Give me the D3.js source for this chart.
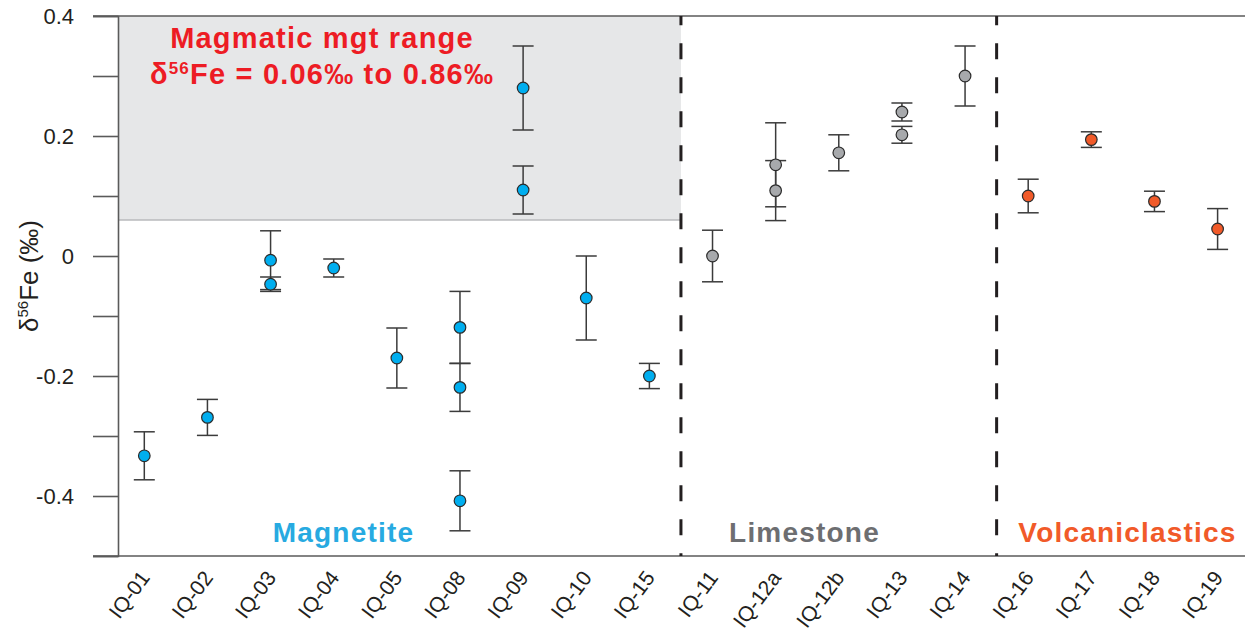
<!DOCTYPE html>
<html>
<head>
<meta charset="utf-8">
<script src="https://cdn.jsdelivr.net/npm/d3@7"></script>
<style>
  html, body { margin: 0; padding: 0; background: #fff; }
  svg { display: block; font-family: "Liberation Sans", Arial, sans-serif; }
</style>
</head>
<body>
<svg id="chart" width="1245" height="632"></svg>
<script>
// Sample order along the x axis
const samples = ["IQ-01", "IQ-02", "IQ-03", "IQ-04", "IQ-05", "IQ-08", "IQ-09", "IQ-10", "IQ-15",
                 "IQ-11", "IQ-12a", "IQ-12b", "IQ-13", "IQ-14",
                 "IQ-16", "IQ-17", "IQ-18", "IQ-19"];

// Magnetite δ56Fe (‰) with 2SD
const magnetiteSamples = ["IQ-01", "IQ-02", "IQ-03", "IQ-03", "IQ-04", "IQ-05", "IQ-08", "IQ-08", "IQ-08", "IQ-09", "IQ-09", "IQ-10", "IQ-15"];
const magnetiteValues  = [-0.333, -0.269, -0.007, -0.047, -0.020, -0.170, -0.119, -0.219, -0.408, 0.280, 0.110, -0.070, -0.200];
const magnetiteErrors  = [0.040, 0.030, 0.049, 0.012, 0.015, 0.050, 0.060, 0.040, 0.050, 0.070, 0.040, 0.070, 0.021];

// Limestone δ56Fe (‰) with 2SD
const limestoneSamples = ["IQ-11", "IQ-12a", "IQ-12a", "IQ-12b", "IQ-13", "IQ-13", "IQ-14"];
const limestoneValues  = [0.000, 0.152, 0.109, 0.172, 0.240, 0.202, 0.300];
const limestoneErrors  = [0.043, 0.070, 0.050, 0.030, 0.015, 0.014, 0.050];

// Volcaniclastics δ56Fe (‰) with 2SD
const volcanicSamples = ["IQ-16", "IQ-17", "IQ-18", "IQ-19"];
const volcanicValues  = [0.100, 0.194, 0.091, 0.045];
const volcanicErrors  = [0.028, 0.013, 0.017, 0.034];

// Magmatic magnetite reference range
const magmaticRange = [0.06, 0.86];

// Axis ticks
const majorTicks = [-0.4, -0.2, 0, 0.2, 0.4];
const minorTicks = [-0.5, -0.3, -0.1, 0.1, 0.3];
const tickLabels = ["-0.4", "-0.2", "0", "0.2", "0.4"];

const svg = d3.select("#chart");
const plotLeft = 118, plotRight = 1245, plotTop = 16, plotBottom = 556;

const x = d3.scalePoint().domain(samples).range([144.3, 1217.6]);
const y = d3.scaleLinear().domain([-0.5, 0.4]).range([plotBottom, plotTop]);

// Shaded magmatic range (clipped to the magnetite panel)
const panelRight = (x("IQ-15") + x("IQ-11")) / 2;
const secondDivider = (x("IQ-14") + x("IQ-16")) / 2;
const rangeTop = y(Math.min(magmaticRange[1], y.domain()[1]));
svg.append("rect")
  .attr("x", plotLeft).attr("y", rangeTop)
  .attr("width", panelRight - plotLeft)
  .attr("height", y(magmaticRange[0]) - rangeTop)
  .attr("fill", "#e6e7e8");
svg.append("line")
  .attr("x1", plotLeft).attr("x2", panelRight)
  .attr("y1", y(magmaticRange[0])).attr("y2", y(magmaticRange[0]))
  .attr("stroke", "#b9babc").attr("stroke-width", 1.5);

// Frame lines: top and bottom extend past the axis to the right edge
const axisColor = "#5a5a5a";
svg.append("line").attr("x1", 93).attr("x2", plotRight).attr("y1", plotTop).attr("y2", plotTop)
  .attr("stroke", axisColor).attr("stroke-width", 1.6);
svg.append("line").attr("x1", 93).attr("x2", plotRight).attr("y1", plotBottom).attr("y2", plotBottom)
  .attr("stroke", axisColor).attr("stroke-width", 1.6);

// Y axis with major labelled ticks and minor ticks
const yAxis = d3.axisLeft(y)
  .tickValues(majorTicks.concat(minorTicks))
  .tickSize(25)
  .tickPadding(19)
  .tickFormat(d => {
    const i = majorTicks.indexOf(d);
    return i >= 0 ? tickLabels[i] : "";
  });
const yg = svg.append("g").attr("transform", `translate(${plotLeft},0)`).call(yAxis);
yg.select(".domain").attr("stroke", axisColor).attr("stroke-width", 1.6);
yg.selectAll(".tick line").attr("stroke", axisColor).attr("stroke-width", 1.6);
yg.selectAll(".tick text")
  .attr("font-family", "Liberation Sans, Arial, sans-serif")
  .attr("font-size", 22).attr("fill", "#231f20");

// Y axis title
const yTitle = svg.append("text")
  .attr("transform", "translate(38,276) rotate(-90)")
  .attr("text-anchor", "middle")
  .attr("font-size", 26).attr("fill", "#231f20");
yTitle.append("tspan").text("δ");
yTitle.append("tspan").attr("font-size", 15).attr("dy", -10).text("56");
yTitle.append("tspan").attr("dy", 10).text("Fe (‰)");

// X axis labels
const xAxis = d3.axisBottom(x).tickSize(0).tickPadding(0);
const xg = svg.append("g").attr("transform", `translate(0,${plotBottom})`).call(xAxis);
xg.select(".domain").remove();
xg.selectAll(".tick text")
  .attr("font-family", "Liberation Sans, Arial, sans-serif")
  .attr("font-size", 21).attr("fill", "#231f20")
  .attr("text-anchor", "end")
  .attr("dy", 0)
  .attr("transform", "translate(6,22) rotate(-53)");

// Group dividers
[panelRight, secondDivider].forEach(xd => {
  svg.append("line")
    .attr("x1", xd).attr("x2", xd).attr("y1", plotTop).attr("y2", plotBottom)
    .attr("stroke", "#231f20").attr("stroke-width", 3)
    .attr("stroke-dasharray", "16,18").attr("stroke-dashoffset", 6.7);
});

// Error bars and markers for each group
function drawGroup(sampleArr, values, errors, fill) {
  const data = sampleArr.map((s, i) => ({ s, v: values[i], e: errors[i] }));
  const g = svg.append("g");
  const bars = g.selectAll("g.bar").data(data).join("g").attr("class", "bar");
  bars.append("line")
    .attr("x1", d => x(d.s)).attr("x2", d => x(d.s))
    .attr("y1", d => y(d.v + d.e)).attr("y2", d => y(d.v - d.e))
    .attr("stroke", "#3b3b3b").attr("stroke-width", 1.5);
  [1, -1].forEach(sign => {
    bars.append("line")
      .attr("x1", d => x(d.s) - 10.5).attr("x2", d => x(d.s) + 10.5)
      .attr("y1", d => y(d.v + sign * d.e)).attr("y2", d => y(d.v + sign * d.e))
      .attr("stroke", "#3b3b3b").attr("stroke-width", 1.5);
  });
  g.selectAll("circle").data(data).join("circle")
    .attr("cx", d => x(d.s)).attr("cy", d => y(d.v))
    .attr("r", 5.8)
    .attr("fill", fill).attr("stroke", "#2b2b2b").attr("stroke-width", 1.2);
}
drawGroup(magnetiteSamples, magnetiteValues, magnetiteErrors, "#00aeef");
drawGroup(limestoneSamples, limestoneValues, limestoneErrors, "#a7a9ac");
drawGroup(volcanicSamples, volcanicValues, volcanicErrors, "#f15a29");

// Annotation for the magmatic range
svg.append("text")
  .attr("x", 322).attr("y", 48)
  .attr("text-anchor", "middle")
  .attr("font-size", 29).attr("font-weight", "bold").attr("fill", "#ed1c24")
  .attr("letter-spacing", 1.2)
  .text("Magmatic mgt range");
const rangeText = svg.append("text")
  .attr("x", 322).attr("y", 84)
  .attr("text-anchor", "middle")
  .attr("font-size", 29).attr("font-weight", "bold").attr("fill", "#ed1c24")
  .attr("letter-spacing", 1.2);
rangeText.append("tspan").text("δ");
rangeText.append("tspan").attr("font-size", 17).attr("dy", -10).text("56");
rangeText.append("tspan").attr("dy", 10)
  .text(`Fe = ${magmaticRange[0].toFixed(2)}‰ to ${magmaticRange[1].toFixed(2)}‰`);

// Group names
const groupNames = [
  { name: "Magnetite", cx: 343.5, color: "#27aae1" },
  { name: "Limestone", cx: 804.5, color: "#6d6e71" },
  { name: "Volcaniclastics", cx: 1127.5, color: "#f15a29" }
];
svg.selectAll("text.group").data(groupNames).join("text")
  .attr("class", "group")
  .attr("x", d => d.cx).attr("y", 542)
  .attr("text-anchor", "middle")
  .attr("font-size", 28).attr("font-weight", "bold")
  .attr("letter-spacing", 1.2)
  .attr("fill", d => d.color)
  .text(d => d.name);
</script>
</body>
</html>
